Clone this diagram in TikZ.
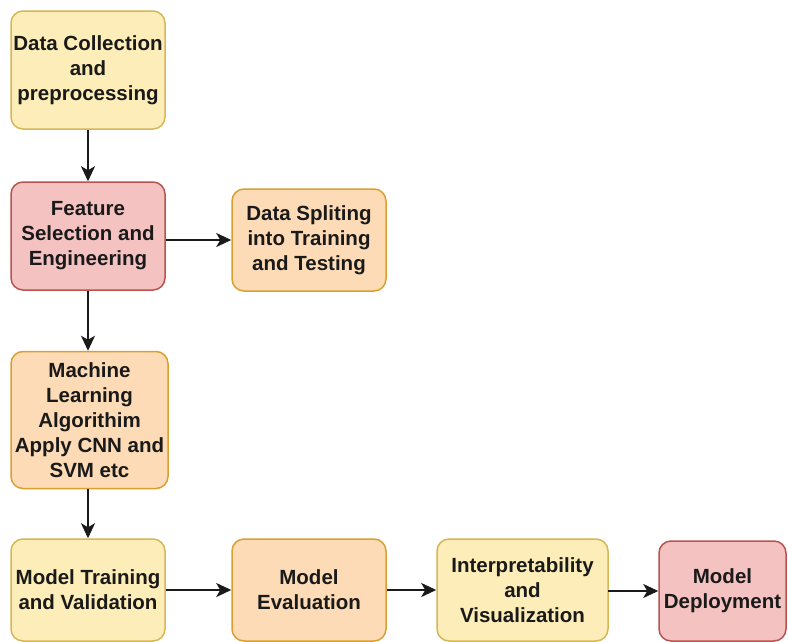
\documentclass[tikz,border=0pt]{standalone}
\usepackage{fontspec}
\setmainfont{Liberation Sans}
\usetikzlibrary{arrows.meta}
\definecolor{yfill}{HTML}{FDEDB8}
\definecolor{ydraw}{HTML}{D6B656}
\definecolor{pfill}{HTML}{F5C2C2}
\definecolor{pdraw}{HTML}{B85450}
\definecolor{ofill}{HTML}{FCDBB6}
\definecolor{odraw}{HTML}{D9A030}
\definecolor{txt}{HTML}{1A1A1A}
\tikzset{
  box/.style={rectangle, rounded corners=12pt, line width=1.5pt, align=center,
    inner sep=0pt, text=txt, font=\bfseries\fontsize{20.5}{25}\selectfont},
  ybox/.style={box, fill=yfill, draw=ydraw},
  pbox/.style={box, fill=pfill, draw=pdraw},
  obox/.style={box, fill=ofill, draw=odraw},
  arr/.style={line width=2pt, draw=txt, -{Stealth[length=15pt,width=14pt,inset=4pt]}},
}
\begin{document}
\begin{tikzpicture}[x=1pt,y=-1pt]
\path[use as bounding box, fill=white] (0,0) rectangle (788,641);
\node[ybox, minimum width=154pt, minimum height=118pt] (A) at (88,70) {Data Collection\\and\\preprocessing};
\node[pbox, minimum width=154pt, minimum height=108pt] (B) at (88,236) {Feature\\Selection and\\Engineering};
\node[obox, minimum width=154pt, minimum height=102pt] (C) at (309,240) {Data Spliting\\into Training\\and Testing};
\node[obox, minimum width=157pt, minimum height=137pt] (D) at (89.5,420) {Machine\\Learning\\Algorithim\\Apply CNN and\\SVM etc};
\node[ybox, minimum width=154pt, minimum height=102pt] (E) at (88,590) {Model Training\\and Validation};
\node[obox, minimum width=154pt, minimum height=102pt] (F) at (309,590) {Model\\Evaluation};
\node[ybox, minimum width=171pt, minimum height=102pt] (G) at (522.5,590) {Interpretability\\and\\Visualization};
\node[pbox, minimum width=127pt, minimum height=100pt] (H) at (722.5,591) {Model\\Deployment};
\draw[arr] (A.south) -- (B.north);
\draw[arr] (B.east |- C.west) -- (C.west);
\draw[arr] (B.south) -- (D.north -| B.south);
\draw[arr] (D.south -| E.north) -- (E.north);
\draw[arr] (E.east) -- (F.west);
\draw[arr] (F.east) -- (G.west);
\draw[arr] (G.east) -- (H.west -| G.east) -- (H.west);
\end{tikzpicture}
\end{document}
